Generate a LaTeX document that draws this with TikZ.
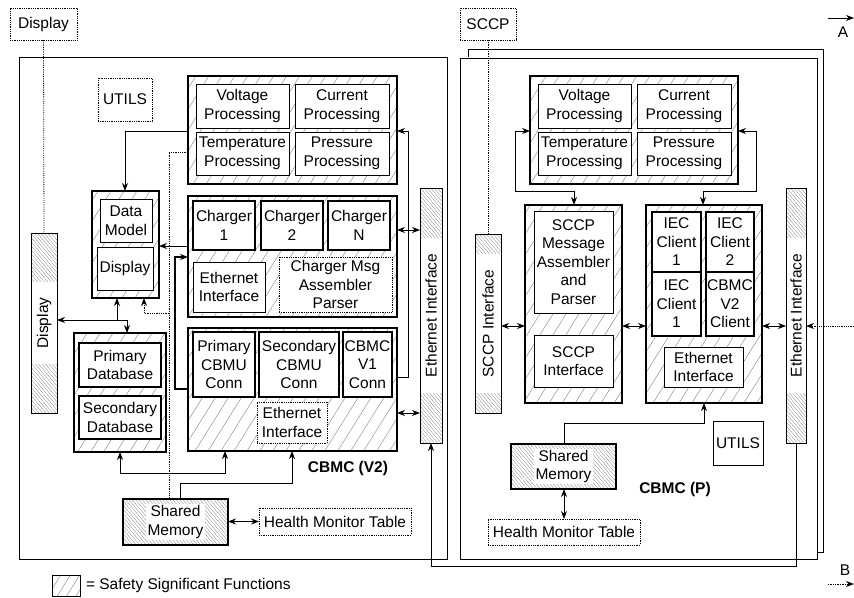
\documentclass[tikz,border=0pt]{standalone}
\usepackage{fontspec}
\setmainfont{Liberation Sans}
\usetikzlibrary{arrows.meta,patterns.meta}
\newcommand\mybx[7]{%
  \pgfmathsetmacro\mycx{(#2+#4)/2}\pgfmathsetmacro\mycy{(#3+#5)/2}%
  \pgfmathsetmacro\myww{#4-#2}\pgfmathsetmacro\myhh{#5-#3}%
  \node[#6, minimum width=\myww pt, minimum height=\myhh pt] (#1) at (\mycx,\mycy) {#7};}
\begin{document}
\begin{tikzpicture}[x=1pt,y=-1pt,
  every node/.style={font=\fontsize{15.5}{18.5}\selectfont, inner sep=0pt, outer sep=0pt, align=center},
  grp/.style={draw, line width=1.5pt, pattern={Lines[angle=58,distance=11pt,line width=0.35pt]}, pattern color=black!55},
  ib/.style={draw, fill=white, line width=0.7pt},
  ibk/.style={draw, fill=white, line width=1.1pt},
  ibd/.style={draw, fill=white, line width=0.8pt, densely dotted},
  bar/.style={draw, line width=1pt, pattern={Lines[angle=-50,distance=2.6pt,line width=0.3pt]}, pattern color=black!50},
  bartxt/.style={rotate=90, fill=white, inner xsep=16pt, inner ysep=0pt},
  smem/.style={draw, line width=1.3pt, pattern={Lines[angle=-50,distance=2.6pt,line width=0.3pt]}, pattern color=black!50},
  frame/.style={draw, line width=1pt},
  ln/.style={line width=0.8pt},
  dln/.style={line width=0.8pt, densely dotted},
  arr/.style={ln, -{Stealth[length=8pt,width=6pt]}},
  darr/.style={ln, {Stealth[length=8pt,width=6pt]}-{Stealth[length=8pt,width=6pt]}},
  lbl/.style={font=\fontsize{15.5}{18.5}\selectfont\bfseries}]
\useasboundingbox (0,0) rectangle (854,597);

% frames
\draw[frame] (19,57) rectangle (447,559);
\draw[frame] (468,57) -- (468,49) -- (823,49) -- (823,552) -- (817,552);
\draw[frame] (460,58) rectangle (817,559);

% ---------- left: CBMC (V2)
\mybx{dtop}{10}{8}{77}{40}{ibd}{Display}
\mybx{dispbar}{31}{233}{57}{413}{bar}{}
\node[bartxt, minimum height=25pt] (dispbartxt) at (dispbar.center) {Display};
\mybx{utilsL}{98}{78}{152}{121}{ibd}{UTILS}

\mybx{procL}{188}{76}{397}{184}{grp}{}
\mybx{voltL}{196}{84}{289}{128}{ib}{Voltage\\Processing}
\mybx{currL}{295}{84}{389}{128}{ib}{Current\\Processing}
\mybx{tempL}{196}{132}{289}{175}{ib}{Temperature\\Processing}
\mybx{presL}{295}{132}{389}{175}{ib}{Pressure\\Processing}

\mybx{chg}{188}{196}{397}{317}{grp}{}
\mybx{chg1}{193}{201}{255}{250}{ibk}{Charger\\1}
\mybx{chg2}{261}{201}{323}{250}{ibk}{Charger\\2}
\mybx{chgN}{328}{201}{390}{250}{ibk}{Charger\\N}
\mybx{ethC}{193}{262}{265}{312}{ib}{Ethernet\\Interface}
\mybx{cmap}{279}{257}{392}{312}{ibd}{Charger Msg\\Assembler\\Parser}

\mybx{cbmu}{188}{328}{397}{451}{grp}{}
\mybx{pcc}{193}{332}{255}{397}{ibk}{Primary\\CBMU\\Conn}
\mybx{scc}{259}{332}{339}{397}{ibk}{Secondary\\CBMU\\Conn}
\mybx{v1c}{343}{332}{392}{397}{ibk}{CBMC\\V1\\Conn}
\mybx{ethB}{257}{402}{327}{443}{ibd}{Ethernet\\Interface}

\mybx{dmg}{92}{191}{159}{298}{grp}{}
\mybx{dm}{100}{199}{152}{242}{ib}{Data\\Model}
\mybx{dsp}{97}{247}{153}{290}{ib}{Display}

\mybx{dbg}{74}{333}{166}{452}{grp}{}
\mybx{pdb}{79}{343}{161}{387}{ibk}{Primary\\Database}
\mybx{sdb}{79}{396}{161}{439}{ibk}{Secondary\\Database}

\mybx{smL}{123}{499}{228}{545}{smem}{}
\node[fill=white, inner sep=1.5pt] (smLt) at (smL.center) {Shared\\Memory};
\mybx{hmL}{259}{508}{411}{535}{ibd}{Health Monitor Table}

\mybx{ethL}{420}{188}{442}{443}{bar}{}
\node[bartxt, minimum height=21pt] (ethLt) at (ethL.center) {Ethernet Interface};

\node[lbl] (lblV2) at (348,468) {CBMC (V2)};

% ---------- right: CBMC (P)
\mybx{sccptop}{460}{8}{516}{40}{ibd}{SCCP}
\mybx{sccpbar}{475}{234}{501}{413}{bar}{}
\node[bartxt, minimum height=25pt] (sccpbart) at (sccpbar.center) {SCCP Interface};

\mybx{procR}{530}{76}{738}{184}{grp}{}
\mybx{voltR}{538}{84}{631}{128}{ib}{Voltage\\Processing}
\mybx{currR}{637}{84}{731}{128}{ib}{Current\\Processing}
\mybx{tempR}{538}{132}{631}{175}{ib}{Temperature\\Processing}
\mybx{presR}{637}{132}{731}{175}{ib}{Pressure\\Processing}

\mybx{sccpg}{525}{205}{622}{403}{grp}{}
\mybx{smap}{534}{211}{613}{313}{ib}{SCCP\\Message\\Assembler\\and\\Parser}
\mybx{sccpif}{534}{335}{613}{387}{ib}{SCCP\\Interface}

\mybx{iec}{646}{205}{762}{403}{grp}{}
\mybx{iec1}{652}{212}{701}{272}{ibk}{IEC\\Client\\1}
\mybx{iec2}{706}{212}{754}{272}{ibk}{IEC\\Client\\2}
\mybx{iec3}{652}{272}{701}{336}{ibk}{IEC\\Client\\1}
\mybx{cv2}{706}{272}{754}{336}{ibk}{CBMC\\V2\\Client}
\mybx{ethI}{664}{347}{743}{387}{ib}{Ethernet\\Interface}

\mybx{ethR}{786}{188}{806}{443}{bar}{}
\node[bartxt, minimum height=19pt] (ethRt) at (ethR.center) {Ethernet Interface};

\mybx{utilsR}{713}{421}{763}{465}{ib}{UTILS}
\mybx{smR}{511}{444}{616}{489}{smem}{}
\node[fill=white, inner sep=1.5pt] (smRt) at (smR.center) {Shared\\Memory};
\mybx{hmR}{488}{519}{640}{545}{ibd}{Health Monitor Table}

\node[lbl] (lblP) at (675,489) {CBMC (P)};

% ---------- legend and off-page markers
\mybx{leg}{52}{575}{80}{596}{draw, line width=0.8pt, pattern={Lines[angle=58,distance=8pt,line width=0.35pt]}, pattern color=black!55}{}
\node[anchor=west] (legt) at (86,585) {= Safety Significant Functions};
\coordinate (aL) at (828,18); \coordinate (aR) at (854,18);
\draw[arr, line width=0.7pt] (aL) -- (aR);
\node (lblA) at (843,32) {A};
\coordinate (bL) at (828,584); \coordinate (bR) at (854,584);
\draw[arr, line width=0.7pt, densely dotted] (bL) -- (bR);
\node (lblB) at (845,570) {B};

% ---------- connectors left
\draw[dln] (dtop.south) -- (dispbar.north);
\coordinate (c1) at (125,131);
\draw[arr] (procL.west |- c1) -| (dmg.north -| c1);
\coordinate (c2) at (169,152);
\draw[dln] (procL.west |- c2) -- (c2) -- (smL.north -| c2);
\coordinate (c3) at (169,313); \coordinate (c3b) at (144,313);
\draw[arr, densely dotted] (c3) -- (c3b) -- (dmg.south -| c3b);
\coordinate (c4) at (170,246);
\draw[arr] (chg.west |- c4) -- (dmg.east |- c4);
\coordinate (c5) at (175,389); \coordinate (c5b) at (175,257);
\draw[arr, line width=1.1pt] (cbmu.west |- c5) -- (c5) -- (c5b) -- (chg.west |- c5b);
\coordinate (j1) at (117,320); \coordinate (j2) at (127,320);
\draw[arr] (j1) -- (dispbar.east |- j1);
\draw[arr] (j1) -- (dmg.south -| j1);
\draw[arr] (j1) -- (j2) -- (dbg.north -| j2);
\coordinate (c7a) at (120,473); \coordinate (c7b) at (225,473);
\draw[darr] (dbg.south -| c7a) -- (c7a) -- (c7b) -- (cbmu.south -| c7b);
\coordinate (c8a) at (180,483); \coordinate (c8b) at (292,483);
\draw[arr] (smL.north -| c8a) -- (c8a) -- (c8b) -- (cbmu.south -| c8b);
\draw[darr] (smL.east |- hmL.west) -- (hmL.west);
\coordinate (c10a) at (408,377); \coordinate (c10b) at (408,131);
\draw[arr] (cbmu.east |- c10a) -- (c10a) -- (c10b) -- (procL.east |- c10b);
\coordinate (c11) at (430,230);
\draw[darr] (chg.east |- c11) -- (ethL.west |- c11);
\coordinate (c12) at (430,413);
\draw[darr] (cbmu.east |- c12) -- (ethL.west |- c12);

% ---------- connectors right
\draw[dln] (sccptop.south) -- (sccpbar.north);
\coordinate (r1a) at (515,131); \coordinate (r1b) at (515,191); \coordinate (r1c) at (574,191);
\draw[darr] (procR.west |- r1a) -- (r1a) -- (r1b) -- (r1c) -- (sccpg.north -| r1c);
\coordinate (r2a) at (756,131); \coordinate (r2b) at (756,191); \coordinate (r2c) at (703,191);
\draw[darr] (procR.east |- r2a) -- (r2a) -- (r2b) -- (r2c) -- (iec.north -| r2c);
\coordinate (r3) at (700,326);
\draw[darr] (sccpbar.east |- r3) -- (sccpg.west |- r3);
\draw[darr] (sccpg.east |- r3) -- (iec.west |- r3);
\draw[darr] (iec.east |- r3) -- (ethR.west |- r3);
\coordinate (r4) at (854,326);
\draw[arr, densely dotted] (r4) -- (ethR.east |- r4);
\coordinate (r5a) at (564,423); \coordinate (r5b) at (704,423);
\draw[arr] (smR.north -| r5a) -- (r5a) -- (r5b) -- (iec.south -| r5b);
\draw[darr] (smR.south -| hmR.north) -- (hmR.north);
\coordinate (r7a) at (797,566); \coordinate (r7b) at (431,566);
\draw[arr] (ethR.south |- ethR.south) -- (ethR.south |- r7a) -- (r7b) -- (ethL.south);
\end{tikzpicture}
\end{document}
